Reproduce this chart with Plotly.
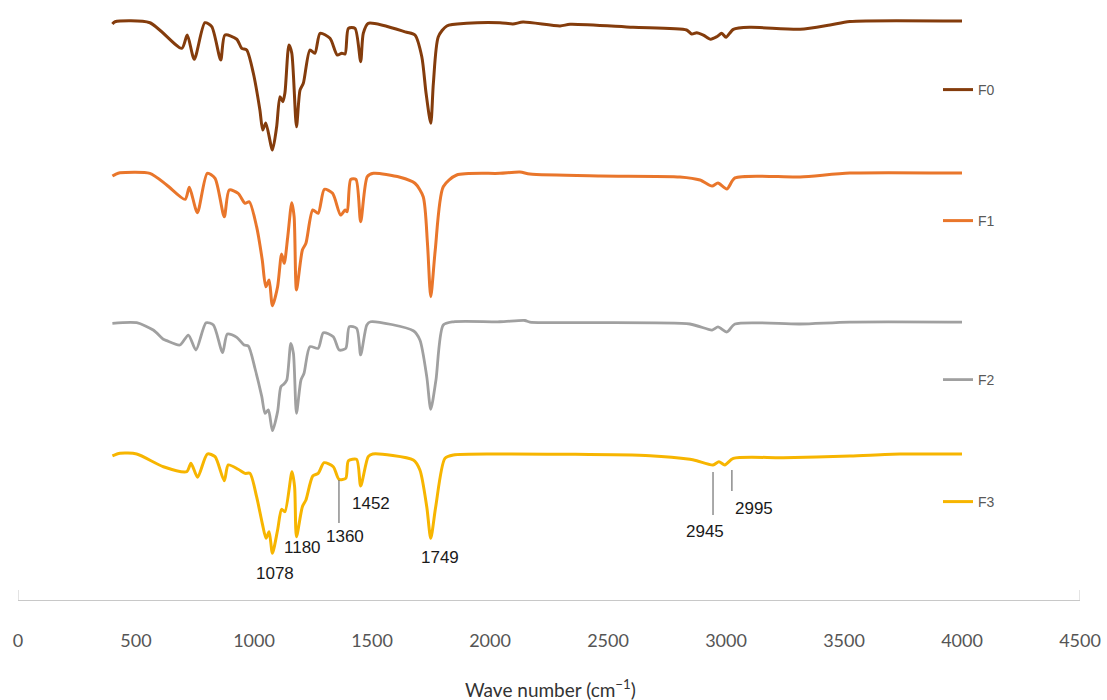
import plotly.graph_objects as go

# FTIR spectra of four formulations (transmittance, %), wavenumber in cm-1
f0_wn = [400, 411, 559, 694, 717, 747, 792, 821, 859, 877, 927, 948, 969, 997, 1025, 1037, 1050,
         1078, 1096, 1110, 1122, 1131, 1148, 1160, 1180, 1195, 1209, 1237, 1258, 1280, 1322, 1353,
         1372, 1386, 1400, 1428, 1452, 1463, 1484, 1647, 1682, 1711, 1729, 1749, 1760, 1781, 1817,
         1901, 2042, 2097, 2140, 2297, 2339, 2606, 2833, 2855, 2876, 2904, 2935, 2961, 2982, 3000,
         3031, 3102, 3314, 3441, 3525, 4000]
f0_t = [94.3, 95.9, 95.2, 76.9, 86.4, 69.1, 95.2, 92.4, 68.6, 86.4, 83.4, 76.9, 75.7, 59.3, 32.9,
        18.6, 23.6, 4.3, 20.9, 42.4, 38.8, 45.0, 79.3, 73.6, 20.9, 47.1, 51.9, 75.7, 73.4, 87.6,
        84.1, 72.1, 73.4, 72.9, 91.2, 91.2, 67.4, 87.6, 94.8, 88.4, 86.4, 70.9, 45.0, 23.4, 51.9,
        85.2, 92.9, 94.8, 95.2, 94.3, 95.7, 92.9, 94.1, 91.9, 90.0, 87.1, 88.1, 86.4, 83.4, 85.2,
        87.6, 84.8, 90.5, 91.9, 90.5, 93.6, 96.1, 96.4]

f1_wn = [400, 415, 432, 559, 630, 708, 726, 760, 802, 835, 874, 895, 933, 962, 980, 1011, 1035,
         1050, 1064, 1078, 1100, 1117, 1128, 1143, 1160, 1170, 1180, 1205, 1220, 1249, 1272, 1298,
         1333, 1367, 1386, 1395, 1410, 1432, 1452, 1480, 1506, 1619, 1682, 1717, 1735, 1749, 1768,
         1802, 1859, 2042, 2127, 2169, 2466, 2805, 2890, 2941, 2966, 3004, 3038, 3314, 3525, 4000]
f1_t = [94.3, 95.7, 96.6, 96.2, 87.9, 77.6, 86.2, 68.1, 96.2, 92.6, 65.2, 84.3, 81.9, 74.8, 75.9,
        58.1, 34.3, 15.2, 20.0, 1.6, 15.2, 38.6, 31.9, 50.9, 75.2, 65.2, 12.9, 41.4, 46.2, 70.0,
        67.6, 84.8, 81.9, 66.4, 70.0, 68.8, 91.9, 91.9, 61.6, 93.8, 96.2, 93.4, 89.1, 79.5, 46.2,
        8.1, 41.4, 86.6, 95.0, 96.2, 97.1, 95.7, 94.3, 93.6, 91.4, 87.1, 89.3, 85.0, 92.9, 93.6,
        96.4, 96.4]

f2_wn = [400, 503, 573, 616, 630, 686, 722, 754, 797, 828, 867, 887, 927, 958, 976, 1004, 1033,
         1047, 1061, 1078, 1100, 1114, 1127, 1139, 1156, 1167, 1180, 1199, 1212, 1237, 1272, 1294,
         1336, 1361, 1389, 1404, 1435, 1452, 1478, 1494, 1675, 1703, 1732, 1749, 1771, 1802, 1845,
         2042, 2148, 2169, 2847, 2941, 2966, 3004, 3038, 3314, 3525, 4000]
f2_t = [95.5, 95.9, 90.7, 84.1, 83.1, 80.0, 87.1, 76.4, 95.9, 94.3, 74.5, 87.9, 85.5, 80.0, 79.3,
        63.4, 43.1, 31.2, 33.6, 18.8, 32.4, 50.2, 52.1, 55.0, 81.2, 74.1, 31.2, 55.0, 59.8, 78.8,
        77.6, 88.8, 85.9, 76.4, 77.6, 93.1, 91.9, 72.9, 94.3, 96.6, 90.2, 83.6, 57.4, 34.1, 55.0,
        94.3, 96.6, 96.6, 97.5, 96.4, 95.0, 90.7, 92.9, 89.3, 95.0, 95.0, 96.4, 96.4]

f3_wn = [400, 432, 503, 616, 715, 733, 761, 802, 835, 874, 891, 933, 962, 983, 1011, 1035, 1051,
         1064, 1078, 1100, 1117, 1131, 1161, 1172, 1180, 1205, 1220, 1249, 1272, 1297, 1336, 1360,
         1389, 1400, 1435, 1452, 1484, 1503, 1675, 1703, 1732, 1749, 1770, 1809, 1845, 2042, 2678,
         2847, 2876, 2945, 2970, 2995, 3031, 3243, 3525, 3737, 4000]
f3_t = [94.3, 96.2, 95.7, 86.6, 83.1, 89.1, 79.1, 95.7, 93.8, 76.6, 87.9, 84.8, 81.9, 81.9, 65.2,
        46.2, 35.5, 40.2, 24.8, 41.4, 56.2, 54.5, 83.1, 72.4, 36.6, 58.1, 62.9, 80.0, 81.9, 89.5,
        86.6, 77.6, 78.4, 90.9, 91.9, 72.9, 93.8, 95.7, 91.4, 84.3, 58.1, 35.5, 58.1, 92.6, 95.0,
        95.7, 94.5, 91.9, 90.9, 87.9, 90.2, 87.9, 92.6, 93.1, 94.3, 95.7, 95.7]

series_names = ["F0", "F1", "F2", "F3"]
x_ticks = [0, 500, 1000, 1500, 2000, 2500, 3000, 3500, 4000, 4500]
peak_labels = [1078, 1180, 1360, 1452, 1749, 2945, 2995]

colors = ["#843C0C", "#E9762B", "#A0A0A0", "#F7B500"]
widths = [3, 3, 2.8, 3]
spectra = [(f0_wn, f0_t), (f1_wn, f1_t), (f2_wn, f2_t), (f3_wn, f3_t)]

# stacked panels: each y axis spans its own strip of the plot area (pixel rows)
PLOT_H = 600
panel_tops = [16, 168, 317, 448]
px_per_unit = 1.4

def domain_for(top):
    bottom = top + 100 * px_per_unit
    return [(PLOT_H - bottom) / PLOT_H, (PLOT_H - top) / PLOT_H]

fig = go.Figure()
legend_keys = ["legend", "legend2", "legend3", "legend4"]
for i, (name, (wn, t)) in enumerate(zip(series_names, spectra)):
    fig.add_trace(go.Scatter(
        x=wn, y=t, name=name, mode="lines",
        line=dict(color=colors[i], width=widths[i], shape="spline", smoothing=0.7),
        xaxis="x", yaxis="y" if i == 0 else f"y{i + 1}",
        legend=legend_keys[i], showlegend=True,
    ))

layout = dict(
    width=1107, height=700,
    margin=dict(l=18, r=27, t=0, b=100, pad=0),
    paper_bgcolor="white", plot_bgcolor="white",
    showlegend=True,
    xaxis=dict(
        range=[0, 4500], tickvals=x_ticks, ticktext=[str(v) for v in x_ticks],
        showgrid=False, zeroline=False, showline=True, linecolor="#c8c8c8", linewidth=1,
        ticks="", anchor="free", position=0, ticklabelstandoff=24,
        tickfont=dict(family="Lato, DejaVu Sans, sans-serif", size=18, color="#555555"),
    ),
)
for i, top in enumerate(panel_tops):
    key = "yaxis" if i == 0 else f"yaxis{i + 1}"
    layout[key] = dict(domain=domain_for(top), range=[0, 100], visible=False,
                       anchor="x", fixedrange=True)

# one small legend beside each panel
legend_y_px = [90, 221, 380, 502]
for i, ypx in enumerate(legend_y_px):
    layout[legend_keys[i]] = dict(
        x=(938 - 18) / 1062, xanchor="left",
        y=(PLOT_H - ypx) / PLOT_H, yanchor="middle",
        bgcolor="rgba(0,0,0,0)", borderwidth=0,
        font=dict(family="Liberation Sans, Arial, sans-serif", size=14, color="#595959"),
        itemwidth=30, tracegroupgap=0,
    )
fig.update_layout(**layout)

# small end marks on the wavenumber axis
for xv in (x_ticks[0], x_ticks[-1]):
    fig.add_shape(type="line", xref="x", yref="paper", x0=xv, x1=xv, y0=0, y1=10 / PLOT_H,
                  line=dict(color="#c8c8c8", width=1))

# axis title
fig.add_annotation(
    text="Wave number (cm<sup>−1</sup>)", xref="paper", yref="paper",
    x=(550 - 18) / 1062, y=-(688 - PLOT_H) / PLOT_H, xanchor="center", yanchor="middle",
    showarrow=False, font=dict(family="Lato, DejaVu Sans, sans-serif", size=19, color="#333333"),
)

# peak labels on the F3 spectrum
label_y = [10.7, 28.6, 37.1, 60.7, 22.1, 40.7, 57.1]
label_dx = [3, 6, 6, 10, 9, -8, 29]
for val, yv, dx in zip(peak_labels, label_y, label_dx):
    fig.add_annotation(
        text=str(val), x=val, y=yv, xref="x", yref="y4", xshift=dx,
        showarrow=False, xanchor="center", yanchor="middle",
        font=dict(family="Liberation Sans, Arial, sans-serif", size=17, color="#1a1a1a"),
    )

# leader lines for the weaker bands
leaders = [(1360, 77.1, 46.4), (2945, 82.9, 52.1), (3025, 84.3, 69.3)]
for xv, y0, y1 in leaders:
    fig.add_shape(type="line", xref="x", yref="y4", x0=xv, x1=xv, y0=y0, y1=y1,
                  line=dict(color="#707070", width=1.2))

fig.write_html("out.html")
